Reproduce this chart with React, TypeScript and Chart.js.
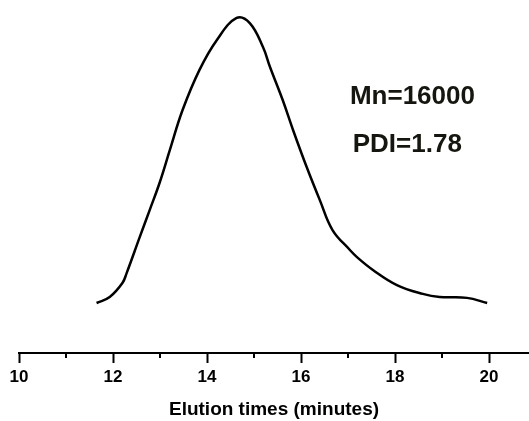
import React, { useEffect, useRef } from "react";
import { Chart, registerables } from "chart.js";

Chart.register(...registerables);

const elutionTimes = [11.65, 11.93, 12.2, 12.29, 12.57, 12.78, 12.99, 13.21, 13.48, 13.84, 14.21, 14.63, 14.91, 15.19, 15.34, 15.61, 15.83, 16.12, 16.4, 16.67, 17.04, 17.19, 17.53, 18.04, 18.59, 18.95, 19.53, 19.96];
const intensity = [0.0, 0.021, 0.07, 0.105, 0.232, 0.326, 0.421, 0.537, 0.677, 0.818, 0.923, 1.0, 0.982, 0.898, 0.828, 0.712, 0.607, 0.477, 0.361, 0.256, 0.186, 0.161, 0.116, 0.063, 0.032, 0.021, 0.018, 0.0];
const majorTicks = [10, 12, 14, 16, 18, 20];
const minorTicks = [11, 13, 15, 17, 19];
const xTitle = "Elution times (minutes)";
const annotations = [
  { text: "Mn=16000", x: 17.04, y: 0.723 },
  { text: "PDI=1.78", x: 17.1, y: 0.554 },
];

const FONT = "'Liberation Sans', Arial, sans-serif";

export default function App() {
  const ref = useRef<HTMLCanvasElement>(null);
  useEffect(() => {
    if (!ref.current) return;
    const extras = {
      id: "extras",
      afterDraw(chart: any) {
        const ctx = chart.ctx;
        const xs = chart.scales.x;
        const ys = chart.scales.y;
        ctx.save();
        ctx.strokeStyle = "#000";
        ctx.lineWidth = 2;
        for (const v of minorTicks) {
          const px = Math.round(xs.getPixelForValue(v));
          ctx.beginPath();
          ctx.moveTo(px, xs.top);
          ctx.lineTo(px, xs.top + 5);
          ctx.stroke();
        }
        ctx.fillStyle = "#161610";
        ctx.font = `bold 26px ${FONT}`;
        ctx.textAlign = "left";
        ctx.textBaseline = "middle";
        for (const a of annotations) {
          ctx.fillText(a.text, xs.getPixelForValue(a.x), ys.getPixelForValue(a.y));
        }
        ctx.restore();
      },
    };
    const chart = new Chart(ref.current, {
      type: "line",
      data: {
        datasets: [
          {
            data: elutionTimes.map((x, i) => ({ x, y: intensity[i] })),
            borderColor: "#000",
            borderWidth: 2.5,
            pointRadius: 0,
            fill: false,
            tension: 0.4,
          },
        ],
      },
      options: {
        animation: false,
        responsive: false,
        maintainAspectRatio: false,
        layout: { padding: { left: 19, right: 0, top: 0, bottom: 0 } },
        plugins: { legend: { display: false }, tooltip: { enabled: false } },
        scales: {
          x: {
            type: "linear",
            min: 10,
            max: 20.85,
            afterBuildTicks: (axis: any) => {
              axis.ticks = majorTicks.map((v) => ({ value: v }));
            },
            afterFit: (axis: any) => {
              axis.height = 68;
            },
            ticks: {
              color: "#000",
              font: { family: FONT, size: 17, weight: "bold" },
              padding: 4,
              maxRotation: 0,
              autoSkip: false,
              callback: (v: any) => String(v),
            },
            grid: {
              drawOnChartArea: false,
              drawTicks: true,
              tickLength: 10,
              tickWidth: 2,
              tickColor: "#000",
            },
            border: { display: true, color: "#000", width: 2 },
            title: {
              display: true,
              text: xTitle,
              color: "#000",
              font: { family: FONT, size: 19, weight: "bold" },
              padding: { top: 4, bottom: 0 },
            },
          },
          y: {
            display: false,
            min: -0.1754,
            max: 1.063,
          },
        },
      },
      plugins: [extras],
    });
    return () => chart.destroy();
  }, []);
  return (
    <div style={{ position: "fixed", left: 0, top: 0, width: 529, height: 421, background: "#fff" }}>
      <canvas ref={ref} width={529} height={421} style={{ width: 529, height: 421, display: "block" }} />
    </div>
  );
}
